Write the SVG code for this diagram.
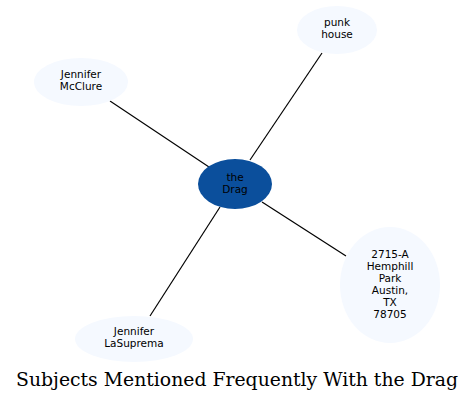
<svg xmlns="http://www.w3.org/2000/svg" width="475" height="401" viewBox="0 0 475 401">
<style>
.n{fill:#f5f9ff;stroke:none}
.c{fill:#0b4f9c;stroke:none}
.t{font-family:"DejaVu Sans",sans-serif;font-size:10.5px;fill:#000;text-anchor:middle}
.e{stroke:#000;stroke-width:1.2;fill:none}
.title{font-family:"DejaVu Serif",serif;font-size:18px;fill:#000;text-anchor:middle}
</style>
<rect width="475" height="401" fill="#fff"/>
<g id="edges">
<line class="e" x1="250" y1="160" x2="322" y2="53"/>
<line class="e" x1="110" y1="101" x2="209" y2="167"/>
<line class="e" x1="262" y1="202" x2="346" y2="256"/>
<line class="e" x1="220" y1="207" x2="150" y2="316"/>
</g>
<g id="punk-house">
<ellipse class="n" cx="337" cy="30" rx="40" ry="24"/>
<text class="t" x="337" y="26">punk</text>
<text class="t" x="337" y="38">house</text>
</g>
<g id="jennifer-mcclure">
<ellipse class="n" cx="81" cy="82" rx="47" ry="24"/>
<text class="t" x="81" y="78">Jennifer</text>
<text class="t" x="81" y="90">McClure</text>
</g>
<g id="the-drag">
<ellipse class="c" cx="235" cy="184" rx="37" ry="25"/>
<text class="t" x="235" y="181">the</text>
<text class="t" x="235" y="193">Drag</text>
</g>
<g id="address">
<ellipse class="n" cx="390" cy="285" rx="50" ry="58"/>
<text class="t" x="390" y="258">2715-A</text>
<text class="t" x="390" y="270">Hemphill</text>
<text class="t" x="390" y="282">Park</text>
<text class="t" x="390" y="294">Austin,</text>
<text class="t" x="390" y="306">TX</text>
<text class="t" x="390" y="318">78705</text>
</g>
<g id="jennifer-lasuprema">
<ellipse class="n" cx="134" cy="339" rx="59" ry="23"/>
<text class="t" x="134" y="335">Jennifer</text>
<text class="t" x="134" y="347">LaSuprema</text>
</g>
<text class="title" x="237" y="386" textLength="442" lengthAdjust="spacingAndGlyphs">Subjects Mentioned Frequently With the Drag</text>
</svg>
